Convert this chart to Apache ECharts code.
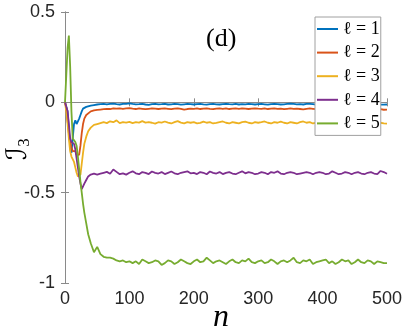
<!DOCTYPE html>
<html lang="en">
<head>
  <meta charset="UTF-8" />
  <title>I3 vs n</title>
  <script src="https://cdn.jsdelivr.net/npm/echarts@6.0.0/dist/echarts.min.js"></script>
  <style>
    body { margin: 0; background: #fff; }
    #chart { width: 407px; height: 332px; }
  </style>
</head>
<body>
  <div id="chart"></div>
  <script>
    // time steps (fine near the transient, then every 5)
    const nValues = [0, 2, 4, 6, 8, 10, 12, 14, 16, 18, 20, 22, 24, 26, 28, 30, 33, 36, 40, 45,
      50, 55, 60, 65, 70, 75, 80, 85, 90, 95, 100, 105, 110, 115, 120, 125, 130, 135, 140, 145,
      150, 155, 160, 165, 170, 175, 180, 185, 190, 195, 200, 205, 210, 215, 220, 225, 230, 235, 240, 245,
      250, 255, 260, 265, 270, 275, 280, 285, 290, 295, 300, 305, 310, 315, 320, 325, 330, 335, 340, 345,
      350, 355, 360, 365, 370, 375, 380, 385, 390, 395, 400, 405, 410, 415, 420, 425, 430, 435, 440, 445,
      450, 455, 460, 465, 470, 475, 480, 485, 490, 495, 500];

    const l1 = [0, 0, -0.05, -0.15, -0.24, -0.28, -0.2, -0.12, -0.1, -0.12, -0.11, -0.09, -0.07, -0.05, -0.035, -0.03, -0.025, -0.02, -0.018, -0.015,
      -0.012, -0.010, -0.008, -0.011, -0.009, -0.007, -0.010, -0.012, -0.009, -0.008,
      -0.006, -0.009, -0.011, -0.010, -0.008, -0.012, -0.014, -0.010, -0.009, -0.011,
      -0.010, -0.008, -0.012, -0.011, -0.009, -0.010, -0.013, -0.011, -0.009, -0.010,
      -0.012, -0.010, -0.008, -0.011, -0.013, -0.010, -0.009, -0.011, -0.012, -0.010,
      -0.008, -0.010, -0.011, -0.009, -0.012, -0.010, -0.011, -0.008, -0.010, -0.012,
      -0.010, -0.009, -0.011, -0.013, -0.010, -0.008, -0.010, -0.012, -0.011, -0.009,
      -0.007, -0.009, -0.011, -0.010, -0.012, -0.009, -0.008, -0.010, -0.013, -0.011,
      -0.010, -0.012, -0.014, -0.011, -0.009, -0.012, -0.013, -0.010, -0.011, -0.012,
      -0.010, -0.013, -0.011, -0.009, -0.012, -0.014, -0.011, -0.010, -0.012, -0.013,
      -0.012];

    const l2 = [0, -0.03, -0.1, -0.17, -0.22, -0.25, -0.27, -0.26, -0.27, -0.29, -0.30, -0.29, -0.24, -0.17, -0.12, -0.09, -0.07, -0.06, -0.05, -0.045,
      -0.042, -0.040, -0.038, -0.036, -0.037, -0.034, -0.035, -0.033, -0.036, -0.034,
      -0.032, -0.035, -0.037, -0.034, -0.036, -0.038, -0.036, -0.034, -0.035, -0.037,
      -0.035, -0.034, -0.036, -0.038, -0.035, -0.033, -0.036, -0.040, -0.037, -0.035,
      -0.036, -0.034, -0.037, -0.035, -0.033, -0.036, -0.038, -0.035, -0.034, -0.036,
      -0.034, -0.037, -0.035, -0.033, -0.036, -0.034, -0.035, -0.037, -0.035, -0.033,
      -0.035, -0.036, -0.034, -0.037, -0.035, -0.033, -0.036, -0.035, -0.038, -0.036,
      -0.034, -0.036, -0.035, -0.037, -0.039, -0.036, -0.034, -0.036, -0.038, -0.035,
      -0.036, -0.038, -0.035, -0.037, -0.036, -0.039, -0.037, -0.035, -0.044, -0.038,
      -0.036, -0.040, -0.038, -0.036, -0.042, -0.039, -0.037, -0.040, -0.038, -0.041,
      -0.040];

    const l3 = [0, -0.05, -0.12, -0.2, -0.27, -0.3, -0.31, -0.33, -0.36, -0.39, -0.41, -0.42, -0.40, -0.34, -0.28, -0.23, -0.19, -0.16, -0.14, -0.125,
      -0.12, -0.115, -0.11, -0.115, -0.105, -0.11, -0.10, -0.115, -0.11, -0.112,
      -0.108, -0.115, -0.11, -0.112, -0.104, -0.112, -0.11, -0.113, -0.118, -0.11,
      -0.112, -0.106, -0.112, -0.117, -0.11, -0.104, -0.112, -0.116, -0.11, -0.113,
      -0.11, -0.116, -0.114, -0.107, -0.113, -0.11, -0.117, -0.114, -0.11, -0.106,
      -0.113, -0.117, -0.11, -0.113, -0.116, -0.11, -0.107, -0.113, -0.117, -0.11,
      -0.113, -0.11, -0.106, -0.113, -0.117, -0.11, -0.113, -0.107, -0.113, -0.117,
      -0.11, -0.113, -0.117, -0.11, -0.106, -0.113, -0.11, -0.117, -0.113, -0.11,
      -0.117, -0.113, -0.11, -0.117, -0.113, -0.106, -0.113, -0.117, -0.11, -0.113,
      -0.117, -0.11, -0.113, -0.117, -0.11, -0.113, -0.117, -0.11, -0.113, -0.117,
      -0.118];

    const l4 = [0, 0, -0.05, -0.12, -0.2, -0.22, -0.22, -0.23, -0.26, -0.31, -0.36, -0.41, -0.45, -0.48, -0.47, -0.45, -0.43, -0.41, -0.40, -0.395,
      -0.40, -0.395, -0.39, -0.385, -0.395, -0.372, -0.385, -0.398, -0.393, -0.40,
      -0.39, -0.382, -0.393, -0.398, -0.386, -0.39, -0.397, -0.383, -0.39, -0.394,
      -0.386, -0.397, -0.39, -0.383, -0.393, -0.398, -0.39, -0.386, -0.382, -0.393,
      -0.39, -0.397, -0.386, -0.39, -0.398, -0.383, -0.39, -0.394, -0.386, -0.397,
      -0.39, -0.386, -0.394, -0.398, -0.39, -0.382, -0.393, -0.386, -0.39, -0.398,
      -0.394, -0.386, -0.39, -0.398, -0.386, -0.39, -0.382, -0.394, -0.398, -0.39,
      -0.386, -0.39, -0.398, -0.394, -0.39, -0.386, -0.39, -0.398, -0.39, -0.386,
      -0.39, -0.398, -0.394, -0.382, -0.39, -0.398, -0.394, -0.386, -0.39, -0.398,
      -0.39, -0.386, -0.394, -0.398, -0.39, -0.386, -0.394, -0.398, -0.38, -0.386,
      -0.395];

    const l5 = [0, 0.15, 0.3, 0.37, 0.2, -0.05, -0.2, -0.21, -0.22, -0.24, -0.3, -0.37, -0.44, -0.5, -0.56, -0.61, -0.67, -0.73, -0.78, -0.83,
      -0.80, -0.84, -0.855, -0.86, -0.86, -0.865, -0.875, -0.88, -0.875, -0.885,
      -0.88, -0.89, -0.88, -0.895, -0.87, -0.88, -0.89, -0.885, -0.875, -0.88,
      -0.90, -0.89, -0.875, -0.88, -0.895, -0.885, -0.87, -0.88, -0.89, -0.895,
      -0.88, -0.87, -0.885, -0.88, -0.86, -0.875, -0.89, -0.88, -0.875, -0.885,
      -0.895, -0.88, -0.87, -0.885, -0.89, -0.875, -0.88, -0.865, -0.885, -0.89,
      -0.88, -0.875, -0.89, -0.885, -0.87, -0.88, -0.895, -0.88, -0.875, -0.885,
      -0.875, -0.86, -0.885, -0.89, -0.875, -0.88, -0.87, -0.895, -0.885, -0.88,
      -0.875, -0.87, -0.89, -0.88, -0.895, -0.885, -0.87, -0.88, -0.875, -0.895,
      -0.885, -0.87, -0.885, -0.89, -0.875, -0.88, -0.895, -0.88, -0.885, -0.89,
      -0.89];

    const seriesNames = ['ℓ = 1', 'ℓ = 2', 'ℓ = 3', 'ℓ = 4', 'ℓ = 5'];
    const seriesValues = [l1, l2, l3, l4, l5];
    const colors = ['#0072BD', '#D95319', '#EDB120', '#7E2F8E', '#77AC30'];

    const axisGray = '#8a8a8a';
    const tickFont = { fontFamily: 'Liberation Sans, Arial, sans-serif', fontSize: 18, color: '#262626' };

    const chart = echarts.init(document.getElementById('chart'));

    const boxAxis = {
      axisLine: { show: true, lineStyle: { color: axisGray, width: 1 } },
      axisTick: { show: true, inside: true, length: 4, lineStyle: { color: axisGray } },
      splitLine: { show: false }
    };

    const option = {
      animation: false,
      backgroundColor: '#fff',
      color: colors,
      grid: { left: 65, right: 20, top: 12, bottom: 49 },
      xAxis: [
        Object.assign({
          type: 'value', min: 0, max: 500, interval: 100, position: 'bottom',
          axisLabel: Object.assign({ margin: 7 }, tickFont)
        }, boxAxis),
        Object.assign({
          type: 'value', min: 0, max: 500, interval: 100, position: 'top',
          axisLabel: { show: false }
        }, boxAxis)
      ],
      yAxis: [
        Object.assign({
          type: 'value', min: -1, max: 0.5, interval: 0.5, position: 'left',
          axisLabel: Object.assign({ margin: 10 }, tickFont)
        }, boxAxis),
        Object.assign({
          type: 'value', min: -1, max: 0.5, interval: 0.5, position: 'right',
          axisLabel: { show: false }
        }, boxAxis)
      ],
      legend: {
        orient: 'vertical',
        left: 315,
        top: 17,
        padding: [2, 1, 2, 2],
        icon: 'rect',
        itemWidth: 21,
        itemHeight: 2,
        itemGap: 3.6,
        itemTextGap: 2,
        backgroundColor: '#fff',
        borderColor: '#a0a0a0',
        borderWidth: 1,
        borderRadius: 0,
        textStyle: { fontFamily: 'Liberation Serif, DejaVu Serif, serif', fontSize: 18, lineHeight: 20, color: '#000' },
        data: seriesNames
      },
      series: seriesNames.map((name, i) => ({
        name: name,
        type: 'line',
        symbol: 'none',
        xAxisIndex: 0,
        yAxisIndex: 0,
        lineStyle: { width: 1.8, color: colors[i] },
        itemStyle: { color: colors[i] },
        data: nValues.map((n, k) => [n, seriesValues[i][k]])
      })),
      graphic: [
        {
          type: 'text', left: 206, top: 26,
          style: { text: '(d)', font: '26px "Liberation Serif", "DejaVu Serif", serif', fill: '#000' }
        },
        {
          type: 'text', x: 213, y: 302,
          style: { text: 'n', font: 'italic 32px "Liberation Serif", "DejaVu Serif", serif', fill: '#000' }
        },
        {
          type: 'text', x: 4, y: 160, rotation: Math.PI / 2,
          style: {
            text: '{a|ℐ}{b|3}',
            rich: {
              a: { fontFamily: 'DejaVu Sans, sans-serif', fontStyle: 'italic', fontSize: 28, fill: '#000', verticalAlign: 'bottom' },
              b: { fontFamily: 'Liberation Serif, DejaVu Serif, serif', fontSize: 17, fill: '#000', padding: [12, 0, 0, 0] }
            }
          }
        }
      ]
    };

    chart.setOption(option);
    window.addEventListener('resize', () => chart.resize());
  </script>
</body>
</html>
